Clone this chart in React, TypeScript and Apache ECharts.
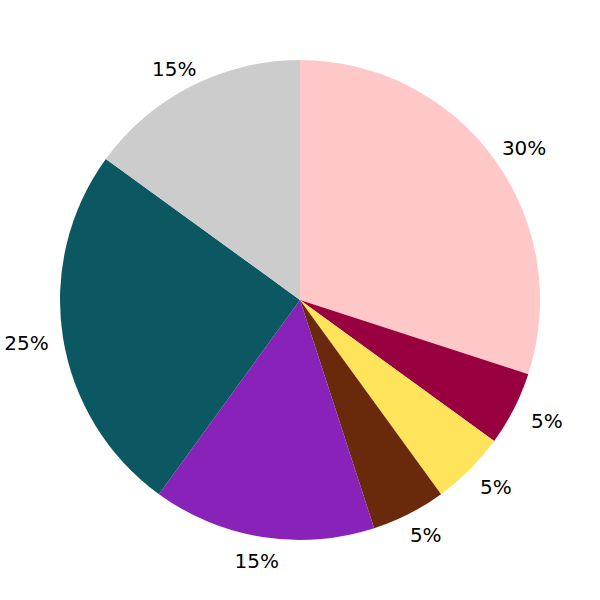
import React, { useEffect, useRef } from "react";
import * as echarts from "echarts";

const categories = ["A", "B", "C", "D", "E", "F", "G"];
const values = [30, 5, 5, 5, 15, 25, 15];
const colors = ["#ffc8c8", "#990040", "#ffe35a", "#6b290c", "#8822b8", "#0b5862", "#cccccc"];

export default function App() {
  const ref = useRef<HTMLDivElement>(null);
  useEffect(() => {
    if (!ref.current) return;
    const chart = echarts.init(ref.current, null, { renderer: "svg" });
    const total = values.reduce((a, b) => a + b, 0);
    let cum = 0;
    const data = categories.map((name, i) => ({
      name,
      value: values[i],
      itemStyle: { color: colors[i] },
    }));
    const labelData = categories.map((name, i) => {
      const mid = ((cum + values[i] / 2) / total) * Math.PI * 2;
      cum += values[i];
      return {
        name,
        value: values[i],
        label: { offset: [15 * Math.sin(mid), 2] },
      };
    });
    chart.setOption({
      animation: false,
      backgroundColor: "#ffffff",
      series: [
        {
          type: "pie",
          center: [300, 300],
          radius: [0, 240],
          startAngle: 90,
          clockwise: true,
          silent: true,
          label: { show: false },
          labelLine: { show: false },
          itemStyle: { borderWidth: 0 },
          emphasis: { disabled: true },
          data,
        },
        {
          type: "pie",
          center: [300, 300],
          radius: [252, 266],
          startAngle: 90,
          clockwise: true,
          silent: true,
          itemStyle: { color: "rgba(0,0,0,0)", borderWidth: 0 },
          emphasis: { disabled: true },
          label: {
            show: true,
            position: "inside",
            formatter: "{c}%",
            color: "#000000",
            fontFamily: "DejaVu Sans",
            fontSize: 20,
          },
          labelLine: { show: false },
          data: labelData,
        },
      ],
    });
    return () => chart.dispose();
  }, []);
  return (
    <div
      ref={ref}
      style={{ position: "fixed", left: 0, top: 0, width: 600, height: 600 }}
    />
  );
}
